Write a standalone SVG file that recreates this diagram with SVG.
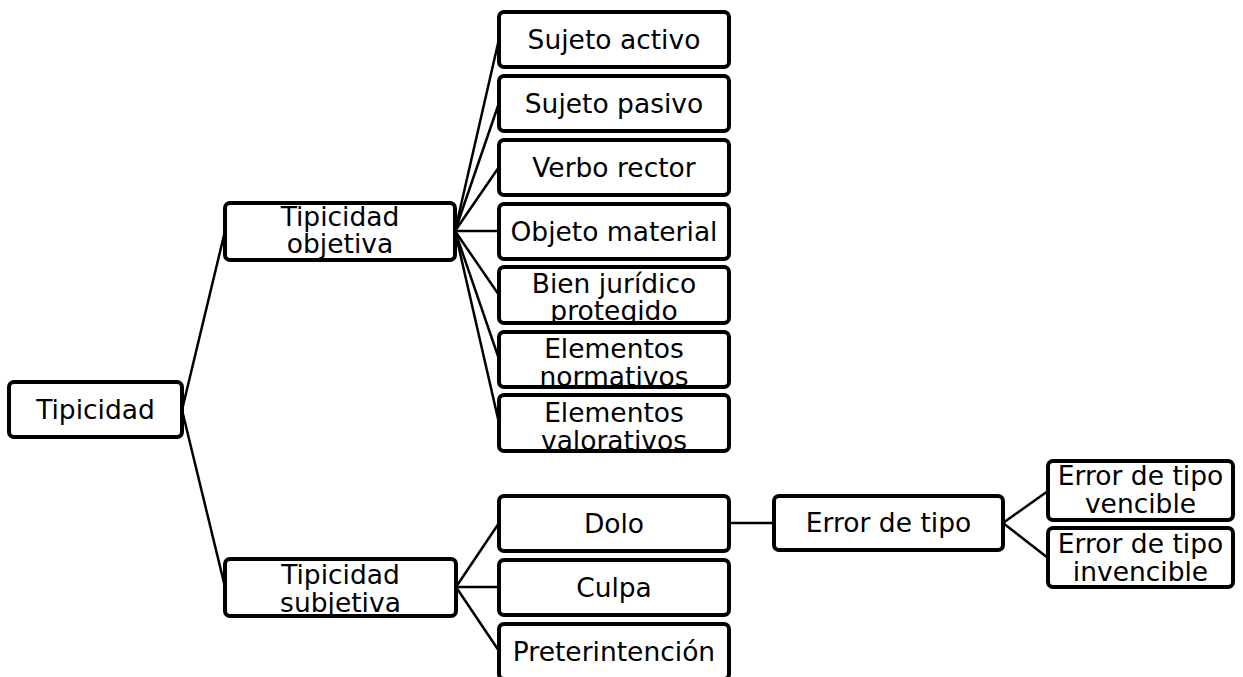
<svg xmlns="http://www.w3.org/2000/svg" width="1243" height="677" viewBox="0 0 1243 677">
<style>
.box{fill:#fff;stroke:#000;stroke-width:4}
.t{font-family:"DejaVu Sans",Verdana,sans-serif;font-size:26.5px;fill:#000;text-anchor:middle}
.c{stroke:#000;stroke-width:2.5;fill:none}
</style>
<defs>
<clipPath id="cp1"><rect x="500" y="268" width="229" height="53"/></clipPath>
<clipPath id="cp2"><rect x="500" y="333" width="229" height="52"/></clipPath>
<clipPath id="cp3"><rect x="500" y="396" width="229" height="53"/></clipPath>
</defs>
<rect width="1243" height="677" fill="#fff"/>
<g id="connectors">
<line class="c" x1="182" y1="410" x2="225" y2="231"/>
<line class="c" x1="182" y1="410" x2="225" y2="587"/>
<line class="c" x1="455" y1="231" x2="499" y2="39"/>
<line class="c" x1="455" y1="231" x2="499" y2="103"/>
<line class="c" x1="455" y1="231" x2="499" y2="167"/>
<line class="c" x1="455" y1="231" x2="499" y2="231"/>
<line class="c" x1="455" y1="231" x2="499" y2="295"/>
<line class="c" x1="455" y1="231" x2="499" y2="359"/>
<line class="c" x1="455" y1="231" x2="499" y2="423"/>
<line class="c" x1="456" y1="587" x2="499" y2="523"/>
<line class="c" x1="456" y1="587" x2="499" y2="587"/>
<line class="c" x1="456" y1="587" x2="499" y2="651"/>
<line class="c" x1="729" y1="523" x2="774" y2="523"/>
<line class="c" x1="1003" y1="523" x2="1048" y2="491"/>
<line class="c" x1="1003" y1="523" x2="1048" y2="558"/>
</g>
<g id="n-tipicidad">
<rect class="box" x="9" y="382" width="173" height="55" rx="5"/>
<text class="t" x="95.5" y="419">Tipicidad</text>
</g>
<g id="n-objetiva">
<rect class="box" x="225" y="203" width="230" height="57" rx="5"/>
<text class="t" x="340" y="226">Tipicidad</text>
<text class="t" x="340" y="253">objetiva</text>
</g>
<g id="n-subjetiva">
<rect class="box" x="225" y="559" width="231" height="57" rx="5"/>
<text class="t" x="340.5" y="584">Tipicidad</text>
<text class="t" x="340.5" y="612">subjetiva</text>
</g>
<g id="n-sujeto-activo">
<rect class="box" x="499" y="12" width="230" height="55" rx="5"/>
<text class="t" x="614" y="48.5">Sujeto activo</text>
</g>
<g id="n-sujeto-pasivo">
<rect class="box" x="499" y="76" width="230" height="55" rx="5"/>
<text class="t" x="614" y="112.5">Sujeto pasivo</text>
</g>
<g id="n-verbo">
<rect class="box" x="499" y="140" width="230" height="55" rx="5"/>
<text class="t" x="614" y="176.5">Verbo rector</text>
</g>
<g id="n-objeto">
<rect class="box" x="499" y="204" width="230" height="55" rx="5"/>
<text class="t" x="614" y="240.5">Objeto material</text>
</g>
<g id="n-bien">
<rect class="box" x="499" y="267" width="230" height="56" rx="5"/>
<g clip-path="url(#cp1)">
<text class="t" x="614" y="293">Bien jurídico</text>
<text class="t" x="614" y="320">protegido</text>
</g>
</g>
<g id="n-normativos">
<rect class="box" x="499" y="332" width="230" height="55" rx="5"/>
<g clip-path="url(#cp2)">
<text class="t" x="614" y="358">Elementos</text>
<text class="t" x="614" y="386">normativos</text>
</g>
</g>
<g id="n-valorativos">
<rect class="box" x="499" y="395" width="230" height="56" rx="5"/>
<g clip-path="url(#cp3)">
<text class="t" x="614" y="422">Elementos</text>
<text class="t" x="614" y="450">valorativos</text>
</g>
</g>
<g id="n-dolo">
<rect class="box" x="499" y="496" width="230" height="55" rx="5"/>
<text class="t" x="614" y="532.5">Dolo</text>
</g>
<g id="n-culpa">
<rect class="box" x="499" y="560" width="230" height="55" rx="5"/>
<text class="t" x="614" y="596.5">Culpa</text>
</g>
<g id="n-preter">
<rect class="box" x="499" y="624" width="230" height="55" rx="5"/>
<text class="t" x="614" y="661">Preterintención</text>
</g>
<g id="n-error">
<rect class="box" x="774" y="496" width="229" height="54" rx="5"/>
<text class="t" x="888.5" y="532">Error de tipo</text>
</g>
<g id="n-vencible">
<rect class="box" x="1048" y="461" width="185" height="59" rx="5"/>
<text class="t" x="1140.5" y="485">Error de tipo</text>
<text class="t" x="1140.5" y="513">vencible</text>
</g>
<g id="n-invencible">
<rect class="box" x="1048" y="528" width="185" height="59" rx="5"/>
<text class="t" x="1140.5" y="553">Error de tipo</text>
<text class="t" x="1140.5" y="581">invencible</text>
</g>
</svg>
